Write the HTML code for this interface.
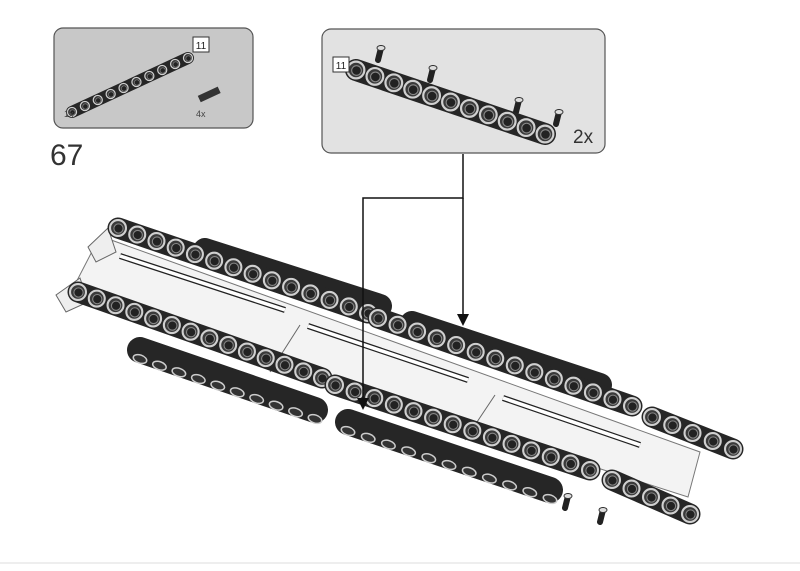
<!DOCTYPE html>
<html><head><style>
html,body{margin:0;padding:0;background:#fff;}
body{width:800px;height:566px;overflow:hidden;position:relative;font-family:"Liberation Sans",sans-serif;}
</style></head><body>
<svg id="s" width="800" height="566" viewBox="0 0 800 566" xmlns="http://www.w3.org/2000/svg">
<rect x="0" y="0" width="800" height="566" fill="#fff"/>
<line x1="0" y1="563" x2="800" y2="563" stroke="#ddd" stroke-width="1"/>
<rect x="54" y="28" width="199" height="100" rx="9" fill="#c8c8c8" stroke="#555" stroke-width="1.2"/>
<rect x="322" y="29" width="283" height="124" rx="9" fill="#e2e2e2" stroke="#555" stroke-width="1.2"/>
<g id="g"></g>
<rect x="193" y="37" width="16" height="15" fill="#fff" stroke="#333"/>
<text x="201" y="49" font-size="10" text-anchor="middle" fill="#222">11</text>
<rect x="333" y="57" width="16" height="15" fill="#fff" stroke="#333"/>
<text x="341" y="69" font-size="10" text-anchor="middle" fill="#222">11</text>
<text x="64" y="117" font-size="9" fill="#444">1x</text>
<text x="196" y="117" font-size="9" fill="#444">4x</text>
<text x="573" y="143" font-size="19" fill="#333">2x</text>
<text x="50" y="165" font-size="30" fill="#333">67</text>
<g stroke="#111" stroke-width="1.5" fill="none">
<polyline points="463,154 463,198 363,198 363,400"/>
<line x1="463" y1="198" x2="463" y2="316"/>
</g>
<polygon points="357,398 369,398 363,410" fill="#111"/>
<polygon points="457,314 469,314 463,326" fill="#111"/>
</svg>
<script>
var g=document.getElementById('g');var ns='http://www.w3.org/2000/svg';
function el(t,a){var e=document.createElementNS(ns,t);for(var k in a)e.setAttribute(k,a[k]);g.appendChild(e);return e;}
function beam(x1,y1,x2,y2,n,w,holes){
 var dx=x2-x1,dy=y2-y1;
 el('line',{x1:x1,y1:y1,x2:x2,y2:y2,stroke:'#262626','stroke-width':w,'stroke-linecap':'round'});
 if(!holes)return;
 for(var i=0;i<n;i++){var t=n==1?0:i/(n-1);var cx=x1+dx*t,cy=y1+dy*t;
  el('circle',{cx:cx,cy:cy,r:w*0.38,fill:'#3a3a3a',stroke:'#d0d0d0','stroke-width':w*0.1});
  el('circle',{cx:cx+0.5,cy:cy+0.5,r:w*0.22,fill:'#222',stroke:'#888','stroke-width':w*0.05});}
}
function lowbeam(x1,y1,x2,y2,n){
 el('line',{x1:x1,y1:y1,x2:x2,y2:y2,stroke:'#262626','stroke-width':26,'stroke-linecap':'round'});
 for(var i=0;i<n;i++){var t=i/(n-1);var cx=x1+(x2-x1)*t,cy=y1+(y2-y1)*t+9;
  el('ellipse',{cx:cx,cy:cy,rx:7,ry:4,fill:'#333',stroke:'#ccc','stroke-width':1.5,transform:'rotate(19 '+cx+' '+cy+')'});}
}
function pin(x,y){el('line',{x1:x,y1:y,x2:x+3,y2:y-12,stroke:'#222','stroke-width':6,'stroke-linecap':'round'});
 el('ellipse',{cx:x+3,cy:y-12,rx:4,ry:2.5,fill:'#ddd',stroke:'#333'});}
// small panel parts
beam(72,112,188,58,10,12,true);
el('rect',{x:198,y:91,width:22,height:7,fill:'#333',transform:'rotate(-25 209 94)'});
pin(378,60);pin(430,80);pin(516,112);pin(556,124);
beam(356,70,545,134,11,22,true);
// main plate
el('polygon',{points:'100,236 700,452 688,497 68,298',fill:'#f3f3f3',stroke:'#777','stroke-width':1});
el('polygon',{points:'56,295 80,278 88,302 66,312',fill:'#eee',stroke:'#666'});
el('polygon',{points:'88,247 108,228 116,252 96,262',fill:'#eee',stroke:'#666'});
[[120,256,285,310],[308,326,468,380],[503,398,640,445]].forEach(function(a){
 el('line',{x1:a[0],y1:a[1],x2:a[2],y2:a[3],stroke:'#222','stroke-width':6});
 el('line',{x1:a[0],y1:a[1],x2:a[2],y2:a[3],stroke:'#fff','stroke-width':3.5});});
el('line',{x1:300,y1:325,x2:270,y2:372,stroke:'#666'});
el('line',{x1:495,y1:395,x2:465,y2:440,stroke:'#666'});
// dark beams behind
beam(205,250,380,306,1,24,false);
beam(412,323,600,385,1,24,false);
// hole beams
beam(118,228,368,313,14,21,true);
beam(378,318,632,406,14,21,true);
beam(652,417,733,449,5,21,true);
beam(78,292,322,378,14,21,true);
lowbeam(140,350,315,410,10);
beam(335,385,590,470,14,21,true);
lowbeam(348,422,550,490,11);
beam(612,480,690,514,5,21,true);
pin(565,508);pin(600,522);
</script>
</body></html>
